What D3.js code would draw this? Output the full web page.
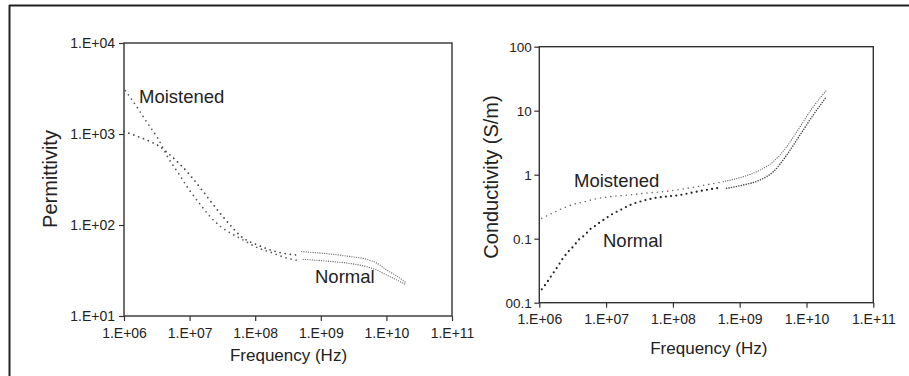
<!DOCTYPE html>
<html><head><meta charset="utf-8">
<script src="https://cdn.jsdelivr.net/npm/d3@7"></script>
<style>
body{margin:0;background:#fff;}
svg{display:block;font-family:"Liberation Sans",Arial,Helvetica,sans-serif;}
</style></head>
<body>
<svg id="c" width="909" height="376"></svg>
<script>
// ---------- data ----------
const xTickValues = [1e6, 1e7, 1e8, 1e9, 1e10, 1e11];
const xTickLabels = ["1.E+06", "1.E+07", "1.E+08", "1.E+09", "1.E+10", "1.E+11"];
const permTickValues = [10, 100, 1000, 10000];
const permTickLabels = ["1.E+01", "1.E+02", "1.E+03", "1.E+04"];
const condTickValues = [0.01, 0.1, 1, 10, 100];
const condTickLabels = ["00.1", "0.1", "1", "10", "100"];

// Permittivity, low-frequency segment (sparse dots)
const permFreqMoistA = [1.05e6, 1.56e6, 2.26e6, 3.33e6, 4.73e6, 6.89e6, 9.9e6, 1.44e7, 2.07e7, 2.98e7, 4.28e7, 6.22e7, 1.05e8, 1.89e8, 2.68e8, 4.8e8];
const permMoistA     = [2990, 2000, 1330, 880, 545, 363, 243, 170, 123, 96, 81, 70, 57, 49, 44.5, 40.5];
const permFreqNormA  = [1.0e6, 1.56e6, 2.26e6, 3.33e6, 4.73e6, 6.89e6, 9.9e6, 1.44e7, 2.07e7, 2.98e7, 4.28e7, 6.22e7, 1.05e8, 1.89e8, 2.68e8, 4.8e8];
const permNormA      = [1065, 950, 855, 745, 612, 476, 361, 259, 184, 132, 97.5, 74, 61, 52, 49, 46.5];
// Permittivity, high-frequency segment (dense dots)
const permFreqNormB  = [5.1e8, 1.55e9, 2.8e9, 5.0e9, 7.1e9, 1.01e10, 1.44e10, 2.04e10];
const permNormB      = [51, 47.6, 45, 42, 38.2, 32, 27.5, 22.9];
const permFreqMoistB = [5.4e8, 1.55e9, 2.8e9, 5.0e9, 7.1e9, 1.01e10, 1.44e10, 2.04e10];
const permMoistB     = [42, 39.5, 37.8, 34.8, 32, 28.2, 24.9, 21.9];

// Conductivity, low-frequency segment (sparse dots)
const condFreqNormA  = [1.09e6, 1.29e6, 1.57e6, 1.88e6, 2.26e6, 2.72e6, 3.27e6, 3.97e6, 4.79e6, 5.74e6, 6.82e6, 8.3e6, 9.86e6, 1.18e7, 1.44e7, 1.71e7, 2.03e7, 2.42e7, 2.97e7, 3.6e7, 5.1e7, 1.28e8, 2.54e8, 5.07e8];
const condNormA      = [0.0162, 0.0205, 0.0278, 0.0365, 0.0494, 0.0627, 0.0769, 0.098, 0.114, 0.140, 0.158, 0.184, 0.208, 0.235, 0.264, 0.288, 0.316, 0.345, 0.370, 0.393, 0.428, 0.482, 0.556, 0.627];
const condFreqMoistA = [1.09e6, 1.57e6, 2.26e6, 3.27e6, 4.79e6, 6.82e6, 9.86e6, 1.44e7, 2.28e7, 3.6e7, 6.4e7, 1.28e8, 2.54e8, 5.07e8];
const condMoistA     = [0.208, 0.250, 0.299, 0.345, 0.379, 0.417, 0.443, 0.465, 0.482, 0.512, 0.537, 0.587, 0.666, 0.760];
// Conductivity, high-frequency segment (dense dots)
const condFreqMoistB = [5.68e8, 1.13e9, 2.01e9, 3.18e9, 5.06e9, 8.0e9, 1.26e10, 2.0e10];
const condMoistB     = [0.778, 0.931, 1.18, 1.60, 2.74, 5.62, 11.5, 21.0];
const condFreqNormB  = [6.37e8, 1.13e9, 2.01e9, 3.18e9, 5.06e9, 8.0e9, 1.26e10, 2.0e10];
const condNormB      = [0.612, 0.690, 0.826, 1.11, 2.03, 4.17, 8.57, 16.6];

// ---------- drawing ----------
const svg = d3.select("#c");
const ink = "#222";

// outer frame (top and left edges)
svg.append("line").attr("x1", 9).attr("x2", 909).attr("y1", 5.5).attr("y2", 5.5).attr("stroke", ink).attr("stroke-width", 2);
svg.append("line").attr("x1", 9.5).attr("x2", 9.5).attr("y1", 5).attr("y2", 376).attr("stroke", ink).attr("stroke-width", 2);

function zip(a, b) { return a.map((v, i) => [v, b[i]]); }

function panel(opt) {
  const x = d3.scaleLog().domain([1e6, 1e11]).range([opt.x0, opt.x1]);
  const y = d3.scaleLog().domain(opt.yDomain).range([opt.y1, opt.y0]);
  const g = svg.append("g");

  g.append("rect").attr("x", opt.x0).attr("y", opt.y0)
    .attr("width", opt.x1 - opt.x0).attr("height", opt.y1 - opt.y0)
    .attr("fill", "none").attr("stroke", "#333").attr("stroke-width", 1.4);

  const xa = g.append("g").attr("transform", `translate(0,${opt.y1})`)
    .call(d3.axisBottom(x).tickValues(xTickValues)
      .tickFormat((d, i) => xTickLabels[i]).tickSize(5).tickSizeOuter(0).tickPadding(opt.xPad));
  const ya = g.append("g").attr("transform", `translate(${opt.x0},0)`)
    .call(d3.axisLeft(y).tickValues(opt.yTicks)
      .tickFormat((d, i) => opt.yLabels[i]).tickSize(5).tickSizeOuter(0).tickPadding(opt.yPad));
  [xa, ya].forEach(a => {
    a.select(".domain").remove();
    a.selectAll("line").attr("stroke", "#333").attr("stroke-width", 1.2);
    a.selectAll("text").attr("fill", ink).style("font-family", '"Liberation Sans",Arial,sans-serif');
  });
  xa.selectAll("text").style("font-size", "14px");
  ya.selectAll("text").style("font-size", opt.yFont + "px");

  const line = d3.line().x(d => x(d[0])).y(d => y(d[1])).curve(d3.curveMonotoneX);
  opt.series.forEach(s => {
    g.append("path").datum(zip(s.f, s.v)).attr("d", line)
      .attr("fill", "none").attr("stroke", s.color)
      .attr("stroke-width", s.w).attr("stroke-linecap", "round")
      .attr("stroke-dasharray", s.dash);
  });

  // axis titles
  g.append("text").attr("x", (opt.x0 + opt.x1) / 2 + opt.xtDx).attr("y", opt.xtY)
    .attr("text-anchor", "middle").attr("fill", ink).style("font-size", "17px")
    .text("Frequency (Hz)");
  g.append("text").attr("transform", `translate(${opt.ytX},${opt.ytY}) rotate(-90)`)
    .attr("text-anchor", "middle").attr("fill", ink).style("font-size", "20px")
    .text(opt.yTitle);

  opt.labels.forEach(l => {
    g.append("text").attr("x", l.x).attr("y", l.y).attr("fill", ink)
      .style("font-size", "18.5px").text(l.t);
  });
}

const sparse = "0 5.2", dense = "0 2.3";

panel({
  x0: 124, x1: 452, y0: 43, y1: 316,
  yDomain: [10, 10000], yTicks: permTickValues, yLabels: permTickLabels,
  xPad: 7, yPad: 4, yFont: 14,
  xtY: 361, xtDx: 0.5, ytX: 57, ytY: 179, yTitle: "Permittivity",
  series: [
    { f: permFreqMoistA, v: permMoistA, color: "#555", w: 1.7, dash: sparse },
    { f: permFreqNormA, v: permNormA, color: "#444", w: 1.8, dash: sparse },
    { f: permFreqNormB, v: permNormB, color: "#666", w: 1.3, dash: dense },
    { f: permFreqMoistB, v: permMoistB, color: "#666", w: 1.3, dash: dense }
  ],
  labels: [ { t: "Moistened", x: 139, y: 103.3 }, { t: "Normal", x: 315, y: 282.7 } ]
});

panel({
  x0: 539.3, x1: 873.3, y0: 46.7, y1: 302.7,
  yDomain: [0.01, 100], yTicks: condTickValues, yLabels: condTickLabels,
  xPad: 6, yPad: 2.5, yFont: 13.5,
  xtY: 354, xtDx: 2.5, ytX: 498, ytY: 177, yTitle: "Conductivity (S/m)",
  series: [
    { f: condFreqMoistA, v: condMoistA, color: "#666", w: 1.6, dash: sparse },
    { f: condFreqNormA, v: condNormA, color: "#222", w: 2.2, dash: sparse },
    { f: condFreqMoistB, v: condMoistB, color: "#666", w: 1.3, dash: dense },
    { f: condFreqNormB, v: condNormB, color: "#444", w: 1.6, dash: "0 2.5" }
  ],
  labels: [ { t: "Moistened", x: 574, y: 187.3 }, { t: "Normal", x: 603, y: 247.3 } ]
});
</script>
</body></html>
